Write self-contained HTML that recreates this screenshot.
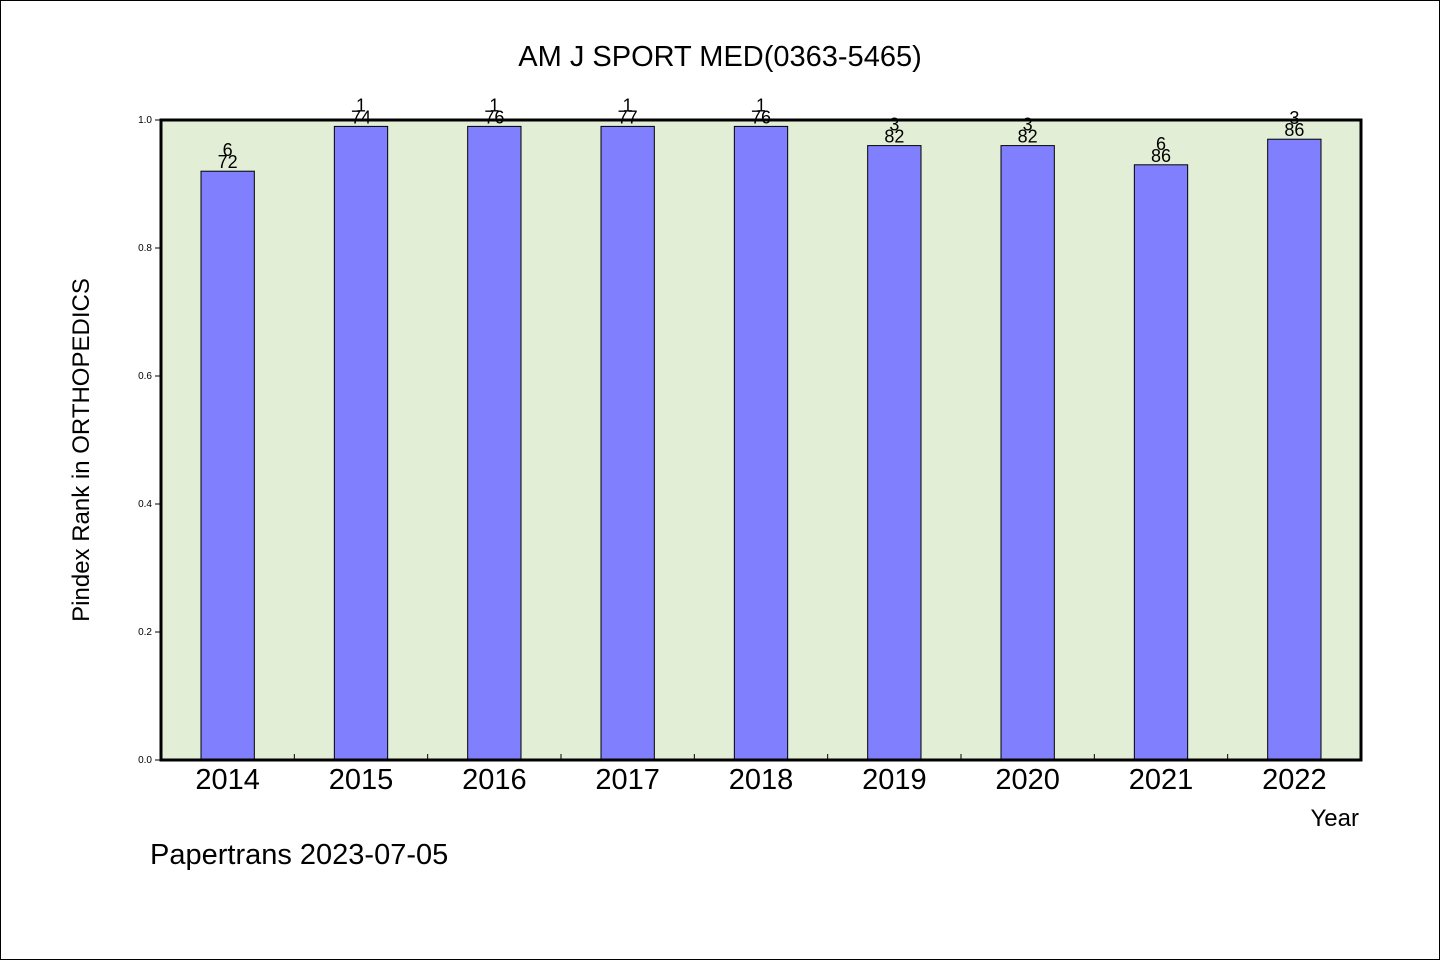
<!DOCTYPE html>
<html><head><meta charset="utf-8"><style>
html,body{margin:0;padding:0;background:#fff}
svg{display:block}
text{font-family:"Liberation Sans","WenQuanYi Zen Hei",sans-serif;fill:#000}
</style></head><body>
<svg id="chart" width="1440" height="960" xmlns="http://www.w3.org/2000/svg">
<rect x="0.5" y="0.5" width="1439" height="959" fill="#fff" stroke="#000"/>
<text x="720" y="66" font-size="29" text-anchor="middle">AM J SPORT MED(0363-5465)</text>
<rect x="161" y="120" width="1200" height="640" fill="#e2efd6"/>
<g id="bars"></g>
<g id="yaxis"></g>
<g id="xaxis"></g>
<rect x="161" y="120" width="1200" height="640" fill="none" stroke="#000" stroke-width="3"/>
<text transform="translate(89,450) rotate(-90)" font-size="24" text-anchor="middle">Pindex Rank in ORTHOPEDICS</text>
<text x="1359" y="826" font-size="24" text-anchor="end">Year</text>
<text x="150" y="864" font-size="29">Papertrans 2023-07-05</text>
</svg>
<script>
const years=["2014","2015","2016","2017","2018","2019","2020","2021","2022"];
const values=[0.92,0.99,0.99,0.99,0.99,0.96,0.96,0.93,0.97];
const ranks=["6","1","1","1","1","3","3","6","3"];
const totals=["72","74","76","77","76","82","82","86","86"];
const yTicks=[0,0.2,0.4,0.6,0.8,1.0];
const NS="http://www.w3.org/2000/svg";
const X0=161,W=1200,Y0=760,H=640;
const band=W/years.length;
const xc=i=>X0+band*(i+0.5);
const y=v=>Y0-v*H;
function mk(tag,attrs,parent,txt){const e=document.createElementNS(NS,tag);for(const k in attrs)e.setAttribute(k,attrs[k]);if(txt!==undefined)e.textContent=txt;parent.appendChild(e);return e;}
const gb=document.getElementById('bars'),gy=document.getElementById('yaxis'),gx=document.getElementById('xaxis');
const bw=band*0.4;
years.forEach((yr,i)=>{
  const top=y(values[i]);
  const r=mk('rect',{x:xc(i)-bw/2,y:top,width:bw,height:Y0-top,fill:'#8080ff',stroke:'#000','stroke-width':1},gb);
  
  
  const t1=mk('text',{x:xc(i),y:top-15,'font-size':18,'text-anchor':'middle'},gb,ranks[i]);
  
  
  const t2=mk('text',{x:xc(i),y:top-3,'font-size':18,'text-anchor':'middle'},gb,totals[i]);
  
  
  const xl=mk('text',{x:xc(i),y:789,'font-size':29,'text-anchor':'middle'},gx,yr);
  
  
  if(i>0){const tk=mk('line',{x1:X0+band*i,x2:X0+band*i,y1:Y0,y2:Y0-6,stroke:'#000'},gx);
  
  }
});
yTicks.forEach(v=>{
  const tk=mk('line',{x1:X0-6,x2:X0,y1:y(v),y2:y(v),stroke:'#000'},gy);
  
  
  const tl=mk('text',{x:X0-9,y:y(v)+3,'font-size':10,'text-anchor':'end'},gy,v.toFixed(1));
  
  
});
</script>
</body></html>
